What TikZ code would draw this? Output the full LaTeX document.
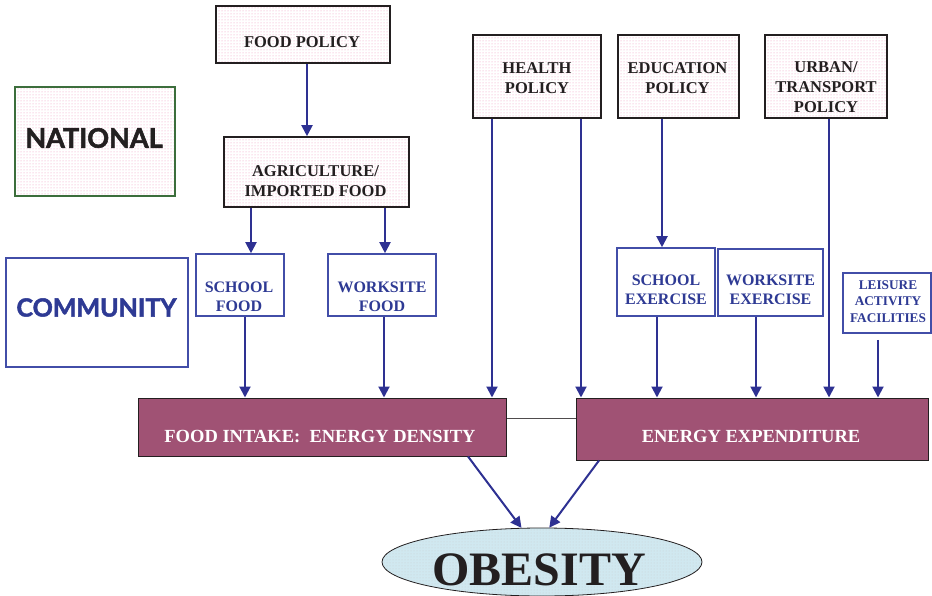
\documentclass[tikz,border=0pt]{standalone}
\usepackage{fontspec}
\setmainfont{Liberation Serif}
\newfontfamily\hdfont{Lato}[BoldFeatures={FakeBold=2}]
\usetikzlibrary{shapes.geometric,arrows.meta,patterns,calc}

\definecolor{navy}{RGB}{46,49,146}
\definecolor{bluebox}{RGB}{66,78,168}
\definecolor{bluetext}{RGB}{46,58,148}
\definecolor{maroonbox}{RGB}{160,82,116}
\definecolor{dark}{RGB}{35,31,32}
\definecolor{natgreen}{RGB}{60,110,60}
\definecolor{pinkdot}{RGB}{238,150,190}
\definecolor{obfill}{RGB}{208,232,240}

\begin{document}
\begin{tikzpicture}[x=1pt,y=-1pt,
  pbox/.style={draw=dark, line width=1.6pt, preaction={fill=white}, pattern=dots, pattern color=pinkdot, inner sep=0pt},
  natbox/.style={draw=natgreen, line width=1.2pt, preaction={fill=white}, pattern=dots, pattern color=pinkdot, inner sep=0pt},
  cbox/.style={draw=bluebox, line width=1.3pt, fill=white, inner sep=0pt},
  bbox/.style={draw=bluebox, line width=1.6pt, fill=white, inner sep=0pt},
  mbox/.style={draw=dark, line width=1pt, fill=maroonbox, inner sep=0pt},
  ptxt/.style={text=dark, font=\fontsize{16.5}{20}\selectfont\bfseries, align=center, inner sep=0pt},
  btxt/.style={text=bluetext, font=\fontsize{16}{19}\selectfont\bfseries, align=center, inner sep=0pt},
  ltxt/.style={text=bluetext, font=\fontsize{13.3}{16.5}\selectfont\bfseries, align=center, inner sep=0pt},
  mtxt/.style={text=white, font=\fontsize{18.5}{22}\selectfont\bfseries, inner sep=0pt},
  arr/.style={draw=navy, line width=2pt, -{Triangle[length=11pt,width=11pt]}},
  link/.style={draw=dark!80, line width=0.9pt}
]
\useasboundingbox (0,0) rectangle (932,596);

% national level
\node[pbox, minimum width=174pt, minimum height=57pt] (foodpol) at (303,34.5) {};
\node[ptxt] (foodpolT) at (302,42) {FOOD POLICY};
\node[natbox, minimum width=160pt, minimum height=109pt] (nat) at (95,141.5) {};
\node[inner sep=0pt, text=dark, font=\hdfont\bfseries\fontsize{27}{30}\selectfont] (natT) at (94,138) {NATIONAL};
\node[pbox, minimum width=185pt, minimum height=70pt] (agri) at (316.5,172) {};
\node[ptxt] (agriT) at (315.5,181) {AGRICULTURE/\\IMPORTED FOOD};
\node[pbox, minimum width=128pt, minimum height=83pt] (health) at (537,76.5) {};
\node[ptxt] (healthT) at (537,78) {HEALTH\\POLICY};
\node[pbox, minimum width=121pt, minimum height=83pt] (educ) at (678.5,76.5) {};
\node[ptxt] (educT) at (677.5,78) {EDUCATION\\POLICY};
\node[pbox, minimum width=122pt, minimum height=83pt] (urban) at (826,76.5) {};
\node[ptxt] (urbanT) at (826,87) {URBAN/\\TRANSPORT\\POLICY};

% community level
\node[cbox, minimum width=182pt, minimum height=109pt] (comm) at (97,312.5) {};
\node[inner sep=0pt, text=bluetext, font=\hdfont\bfseries\fontsize{25}{30}\selectfont] (commT) at (96.5,307.5) {COMMUNITY};
\node[bbox, minimum width=88pt, minimum height=62pt] (sfood) at (240,285) {};
\node[btxt] (sfoodT) at (239,296.5) {SCHOOL\\FOOD};
\node[bbox, minimum width=108pt, minimum height=62pt] (wfood) at (382,285) {};
\node[btxt] (wfoodT) at (382,297) {WORKSITE\\FOOD};
\node[bbox, minimum width=98pt, minimum height=68pt] (sex) at (666,282) {};
\node[btxt] (sexT) at (666,289.5) {SCHOOL\\EXERCISE};
\node[bbox, minimum width=105pt, minimum height=67pt] (wex) at (770.5,282.5) {};
\node[btxt] (wexT) at (770.5,290) {WORKSITE\\EXERCISE};
\node[bbox, minimum width=88pt, minimum height=60pt] (leis) at (887,303) {};
\node[ltxt] (leisT) at (888,301.5) {LEISURE\\ACTIVITY\\FACILITIES};

% intake / expenditure
\node[mbox, minimum width=368pt, minimum height=58pt] (fi) at (322,427) {};
\node[mtxt] (fiT) at (320,436.5) {FOOD INTAKE:\hspace{0.5em}ENERGY DENSITY};
\node[mbox, minimum width=352pt, minimum height=62pt] (en) at (752,429) {};
\node[mtxt] (enT) at (751,436.5) {ENERGY EXPENDITURE};

% obesity
\node[ellipse, draw=dark, line width=0.8pt, preaction={fill=obfill}, pattern=dots, pattern color=obfill!60!black!40, minimum width=320pt, minimum height=68pt, inner sep=0pt] (ob) at (542,562) {};
\node[inner sep=0pt, text=dark, font=\bfseries\fontsize{48}{50}\selectfont] (obT) at (539,570) {OBESITY};

% connector start points
\coordinate (c1) at ([xshift=4pt]foodpol.south);
\coordinate (c2) at ([xshift=-65.5pt]agri.south);
\coordinate (c3) at ([xshift=68.5pt]agri.south);
\coordinate (c4) at ([xshift=5pt]sfood.south);
\coordinate (c5) at ([xshift=2pt]wfood.south);
\coordinate (c6) at ([xshift=-45pt]health.south);
\coordinate (c7) at ([xshift=44pt]health.south);
\coordinate (c8) at ([xshift=-16.5pt]educ.south);
\coordinate (c9) at ([xshift=-9pt]sex.south);
\coordinate (c10) at ([xshift=-14.5pt]wex.south);
\coordinate (c11) at ([xshift=3pt]urban.south);
\coordinate (c12) at ([xshift=-9pt,yshift=-6pt]leis.south);
\coordinate (c13) at ([yshift=9pt]fi.east);

\draw[arr] (c1) -- (c1 |- agri.north);
\draw[arr] (c2) -- (c2 |- sfood.north);
\draw[arr] (c3) -- (c3 |- wfood.north);
\draw[arr] (c4) -- (c4 |- fi.north);
\draw[arr] (c5) -- (c5 |- fi.north);
\draw[arr] (c6) -- (c6 |- fi.north);
\draw[arr] (c7) -- (c7 |- en.north);
\draw[arr] (c8) -- (c8 |- sex.north);
\draw[arr] (c9) -- (c9 |- en.north);
\draw[arr] (c10) -- (c10 |- en.north);
\draw[arr] (c11) -- (c11 |- en.north);
\draw[arr] (c12) -- (c12 |- en.north);
\draw[link] (c13) -- (c13 -| en.west);
\draw[arr] ([xshift=146pt]fi.south) -- (ob.121);
\draw[arr] ([xshift=-153pt]en.south) -- (ob.78);
\end{tikzpicture}
\end{document}
